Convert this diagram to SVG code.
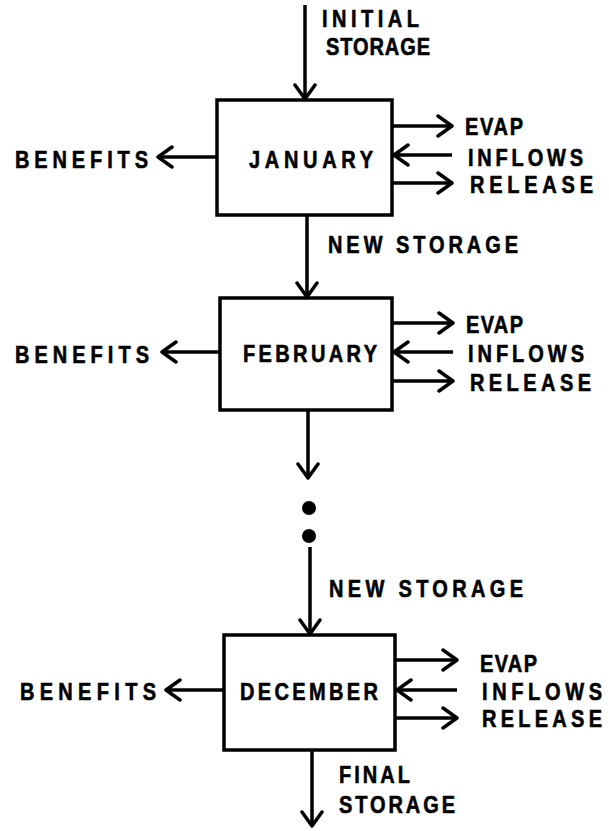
<svg xmlns="http://www.w3.org/2000/svg" width="609" height="831" viewBox="0 0 609 831">
<style>
  .box { fill: #fff; stroke: #000; stroke-width: 3.5; }
  .ln { stroke: #000; stroke-width: 3.5; fill: none; marker-end: url(#ah); }
  text { font-family: "Liberation Sans", Arial, sans-serif; font-weight: bold; font-size: 20px; fill: #000; stroke: #000; stroke-width: 0.5; }
</style>
<defs>
  <marker id="ah" viewBox="0 0 24 24" refX="21" refY="12" markerWidth="24" markerHeight="24" markerUnits="userSpaceOnUse" orient="auto">
    <path d="M7,2 L21,12 L7,22" fill="none" stroke="#000" stroke-width="3.5" stroke-linecap="round" stroke-linejoin="round"/>
  </marker>
</defs>
<rect width="609" height="831" fill="#fff"/>
<g id="connectors">
  <line class="ln" x1="305" y1="5" x2="305" y2="99"/>
  <line class="ln" x1="217" y1="157" x2="158" y2="157"/>
  <line class="ln" x1="392" y1="126" x2="452" y2="126"/>
  <line class="ln" x1="452" y1="155" x2="394" y2="155"/>
  <line class="ln" x1="392" y1="183" x2="452" y2="183"/>
  <line class="ln" x1="307" y1="215" x2="307" y2="297"/>
  <line class="ln" x1="220" y1="352" x2="162" y2="352"/>
  <line class="ln" x1="392" y1="323" x2="453" y2="323"/>
  <line class="ln" x1="453" y1="352" x2="394" y2="352"/>
  <line class="ln" x1="392" y1="381" x2="453" y2="381"/>
  <line class="ln" x1="308" y1="410" x2="308" y2="478"/>
  <circle cx="309" cy="508" r="7" fill="#000"/>
  <circle cx="309" cy="536" r="7" fill="#000"/>
  <line class="ln" x1="310" y1="547" x2="310" y2="634"/>
  <line class="ln" x1="224" y1="690" x2="166" y2="690"/>
  <line class="ln" x1="395" y1="660" x2="457" y2="660"/>
  <line class="ln" x1="457" y1="690" x2="397" y2="690"/>
  <line class="ln" x1="395" y1="718" x2="457" y2="718"/>
  <line class="ln" x1="312" y1="750" x2="312" y2="826"/>
</g>
<g id="labels" transform="scale(1,1.2)">
  <text x="322" y="22.5" textLength="97" lengthAdjust="spacing">INITIAL</text>
  <text x="326" y="45.83" textLength="104" lengthAdjust="spacing">STORAGE</text>
  <text x="328" y="210.83" textLength="190" lengthAdjust="spacing">NEW STORAGE</text>
  <text x="329" y="497.5" textLength="194" lengthAdjust="spacing">NEW STORAGE</text>
  <text x="339" y="652.5" textLength="71" lengthAdjust="spacing">FINAL</text>
  <text x="339" y="677.5" textLength="116" lengthAdjust="spacing">STORAGE</text>
</g>
<g id="boxes">
  <rect id="january" class="box" x="217" y="100" width="175" height="115"/>
  <rect id="february" class="box" x="220" y="298" width="172" height="112"/>
  <rect id="december" class="box" x="224" y="635" width="171" height="115"/>
</g>
<g id="january-labels" transform="scale(1,1.2)">
  <text x="249" y="140" textLength="124" lengthAdjust="spacing">JANUARY</text>
  <text x="15" y="140" textLength="133" lengthAdjust="spacing">BENEFITS</text>
  <text x="465" y="112.5" textLength="58" lengthAdjust="spacing">EVAP</text>
  <text x="468" y="138.33" textLength="115" lengthAdjust="spacing">INFLOWS</text>
  <text x="470" y="160.83" textLength="123" lengthAdjust="spacing">RELEASE</text>
</g>
<g id="february-labels" transform="scale(1,1.2)">
  <text x="243" y="301.67" textLength="134" lengthAdjust="spacing">FEBRUARY</text>
  <text x="15" y="302.5" textLength="134" lengthAdjust="spacing">BENEFITS</text>
  <text x="466" y="277.5" textLength="57" lengthAdjust="spacing">EVAP</text>
  <text x="468" y="301.67" textLength="116" lengthAdjust="spacing">INFLOWS</text>
  <text x="470" y="325.83" textLength="121" lengthAdjust="spacing">RELEASE</text>
</g>
<g id="december-labels" transform="scale(1,1.2)">
  <text x="240" y="583.33" textLength="138" lengthAdjust="spacing">DECEMBER</text>
  <text x="20" y="583.33" textLength="136" lengthAdjust="spacing">BENEFITS</text>
  <text x="480" y="560" textLength="57" lengthAdjust="spacing">EVAP</text>
  <text x="482" y="583.33" textLength="120" lengthAdjust="spacing">INFLOWS</text>
  <text x="482" y="605.83" textLength="120" lengthAdjust="spacing">RELEASE</text>
</g>
</svg>
